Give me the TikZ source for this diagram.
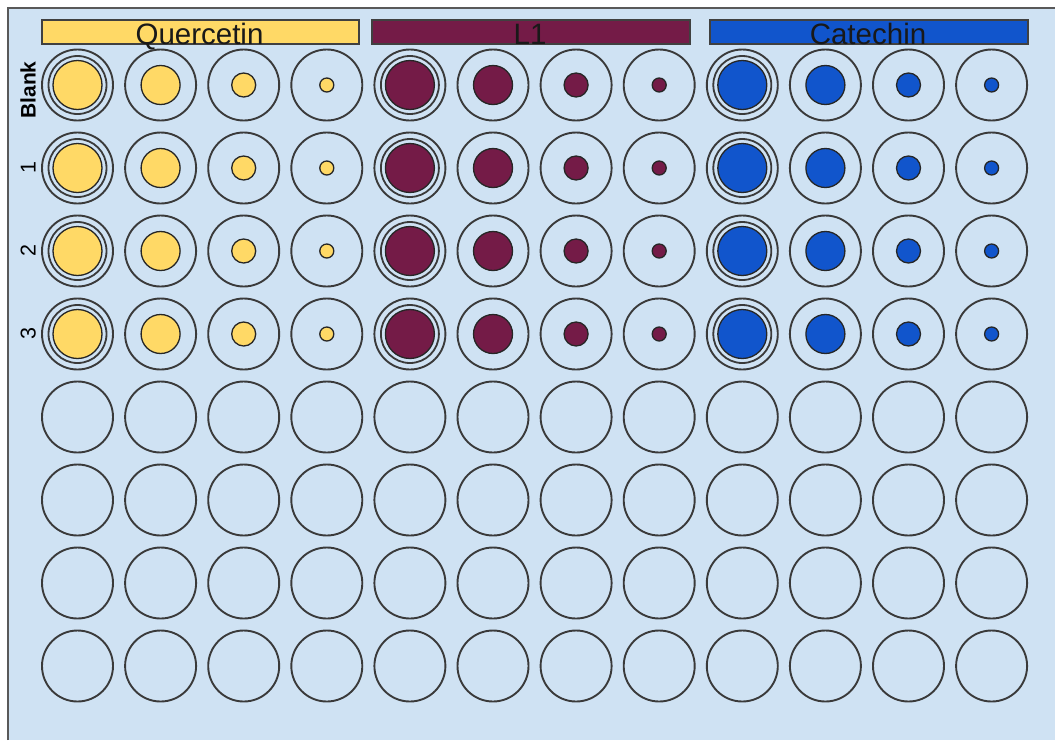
\documentclass[tikz,border=0pt]{standalone}
\usepackage{fontspec}
\setmainfont{Liberation Sans}
\definecolor{plate}{HTML}{CFE2F3}
\definecolor{quer}{HTML}{FFD966}
\definecolor{lone}{HTML}{741B47}
\definecolor{cate}{HTML}{1155CC}
\definecolor{rim}{HTML}{3A3A3A}
\tikzset{
  well/.style={circle, draw=rim, line width=1.9pt, minimum size=71pt, inner sep=0pt},
  bar/.style={draw=black!75, line width=2pt, minimum height=24pt, inner sep=0pt, anchor=south west},
  bartext/.style={anchor=base, text=black!90, font=\fontsize{29.5}{30}\selectfont},
  rowlab/.style={rotate=90, anchor=base, font=\fontsize{21.5}{22}\selectfont}
}
\begin{document}
\begin{tikzpicture}[x=1pt, y=-1pt]
\useasboundingbox (0,0) rectangle (1055,740);
\fill[plate] (8,8) rectangle (1055,740);
\draw[black!65, line width=1.8pt] (8,740) -- (8,8) -- (1055,8);
% compound bars
\node[bar, fill=quer, minimum width=317pt] (barQ) at (41,45) {};
\node[bar, fill=lone, minimum width=318pt] (barL) at (371,45) {};
\node[bar, fill=cate, minimum width=318pt] (barC) at (709,45) {};
\node[bartext] (txtQ) at (199.5,44) {Quercetin};
\node[bartext] (txtL) at (530,44) {L1};
\node[bartext] (txtC) at (868,44) {Catechin};
% row labels
\node[rowlab, font=\bfseries\fontsize{21}{21}\selectfont] (labB) at (35.5,90) {Blank};
\foreach \r in {1,2,3}
  \node[rowlab] (lab\r) at (35.5,{85+83*\r}) {\r};
% wells
\foreach \r in {0,...,7}
  \foreach \c in {0,...,11}
    \node[well] (w\r-\c) at ({77.5+83.1*\c},{85+83*\r}) {};
% samples
\foreach \g/\col in {0/quer,1/lone,2/cate}{
  \foreach \r in {0,...,3}{
    \pgfmathtruncatemacro\cf{4*\g}
    \draw[rim, line width=1.8pt] (w\r-\cf) circle (29pt);
    \foreach \k/\rad in {0/24.5,1/19.5,2/12,3/7}{
      \pgfmathtruncatemacro\c{4*\g+\k}
      \filldraw[fill=\col, draw=black!85, line width=1.3pt] (w\r-\c) circle (\rad pt);
    }
  }
}
\end{tikzpicture}
\end{document}
